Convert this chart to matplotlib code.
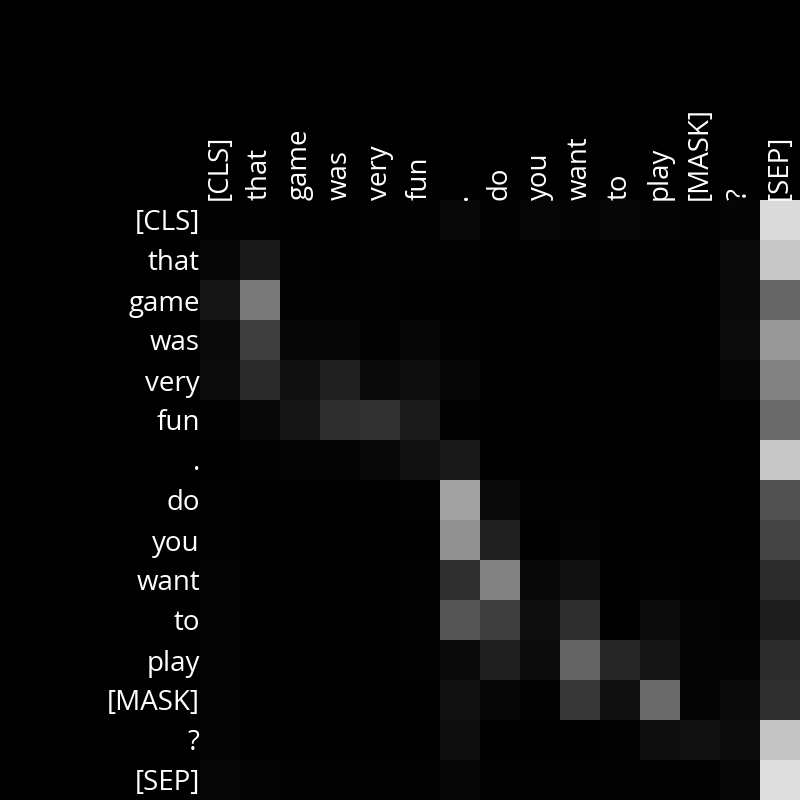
import matplotlib
matplotlib.use("Agg")
import matplotlib.pyplot as plt
import numpy as np

tokens = ["[CLS]", "that", "game", "was", "very", "fun", ".", "do", "you",
          "want", "to", "play", "[MASK]", "?", "[SEP]"]

# attention weights (rows = query token, cols = key token)
row_cls  = [3, 3, 1, 1, 2, 3, 8, 3, 6, 4, 6, 5, 3, 5, 218]
row_that = [6, 25, 3, 1, 2, 3, 2, 1, 0, 0, 0, 0, 0, 10, 200]
row_game = [22, 122, 3, 2, 2, 1, 1, 0, 0, 2, 0, 0, 0, 9, 102]
row_was  = [10, 62, 7, 7, 3, 7, 3, 1, 0, 0, 0, 0, 0, 11, 153]
row_very = [12, 42, 15, 33, 10, 14, 6, 1, 0, 0, 0, 0, 0, 6, 130]
row_fun  = [3, 8, 22, 46, 50, 27, 3, 1, 0, 0, 0, 0, 0, 1, 105]
row_dot  = [1, 2, 4, 4, 8, 18, 25, 1, 0, 0, 0, 1, 1, 1, 200]
row_do   = [2, 1, 1, 1, 1, 2, 162, 9, 2, 2, 0, 0, 0, 0, 82]
row_you  = [3, 1, 1, 1, 1, 1, 145, 32, 1, 5, 0, 0, 0, 0, 68]
row_want = [4, 1, 1, 1, 1, 2, 48, 130, 8, 17, 1, 2, 1, 2, 43]
row_to   = [4, 1, 1, 1, 1, 2, 85, 62, 13, 46, 1, 11, 5, 3, 28]
row_play = [4, 1, 1, 1, 1, 2, 10, 30, 12, 100, 38, 22, 5, 5, 43]
row_mask = [5, 1, 1, 1, 1, 1, 17, 6, 3, 54, 15, 105, 5, 10, 47]
row_q    = [4, 1, 1, 1, 1, 1, 14, 1, 1, 1, 2, 14, 17, 11, 195]
row_sep  = [7, 4, 3, 3, 3, 3, 6, 3, 3, 3, 2, 3, 2, 6, 222]

attention = np.array([row_cls, row_that, row_game, row_was, row_very, row_fun,
                      row_dot, row_do, row_you, row_want, row_to, row_play,
                      row_mask, row_q, row_sep], dtype=float) / 255.0

plt.rcParams['font.family'] = ['Open Sans', 'DejaVu Sans']

fig = plt.figure(figsize=(8, 8), dpi=100, facecolor='black')
ax = fig.add_axes([0.25, 0.0, 0.75, 0.75])
ax.set_facecolor('black')
ax.imshow(attention, cmap='gray', vmin=0, vmax=1, interpolation='nearest', aspect='auto')

ax.xaxis.tick_top()
ax.set_xticks(range(len(tokens)))
ax.set_xticklabels(tokens, rotation=90, fontsize=20, color='white')
ax.set_yticks(range(len(tokens)))
ax.set_yticklabels(tokens, fontsize=20, color='white')
ax.tick_params(length=0, pad=0)
for s in ax.spines.values():
    s.set_visible(False)

fig.savefig('out.png', dpi=100, facecolor='black')
